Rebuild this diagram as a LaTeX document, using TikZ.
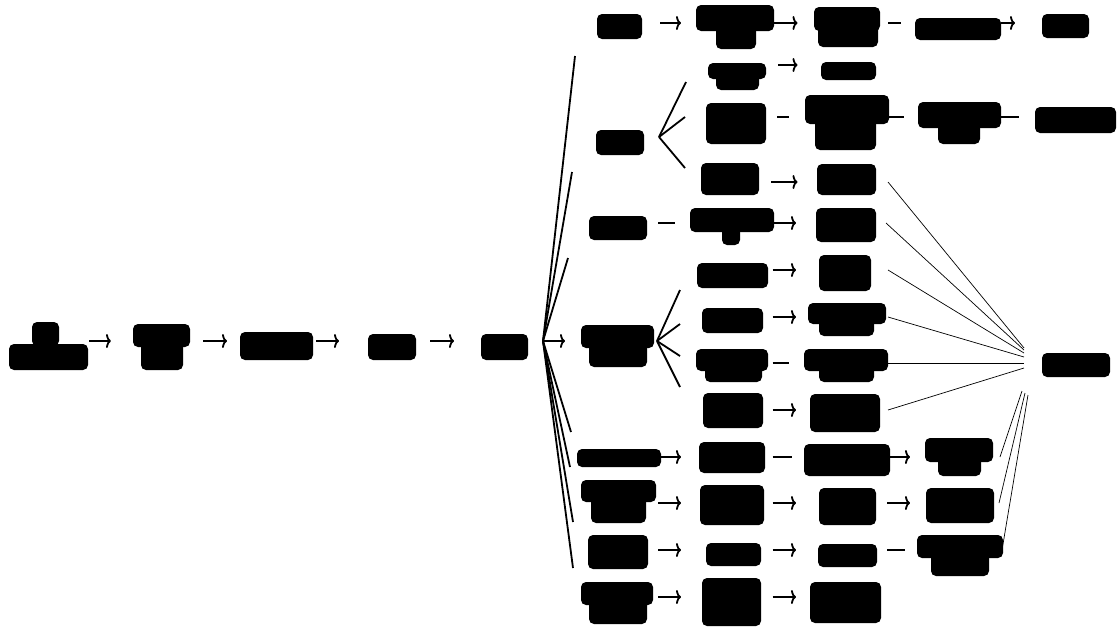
\documentclass[tikz,border=0pt]{standalone}
\usetikzlibrary{arrows.meta}
\tikzset{
  box/.style={rectangle, inner sep=0pt, outer sep=0pt, draw=none},
  blob/.style={fill=black, rounded corners=5pt},
  arr/.style={line width=1.8pt, -{To[length=5pt,width=14pt]}},
  cut/.style={line width=1.8pt},
  fan/.style={line width=1.8pt},
  thinl/.style={line width=0.7pt},
}
\newcommand\bx[5]{\pgfmathsetmacro\bxw{#3-#2}\pgfmathsetmacro\bxc{(#2+#3)/2}%
  \node[box, minimum width=\bxw pt, minimum height=#5 pt] (#1) at (\bxc,#4) {};}
\newcommand\blb[4]{\fill[blob] (#1,#2) rectangle (#3,#4);}
% second line of a two-line label: overlaps the first so they merge
\newcommand\blc[4]{\fill[blob] (#1,#2-8) rectangle (#3,#4);}
\begin{document}
\begin{tikzpicture}[x=1pt,y=-1pt]
\useasboundingbox (0,0) rectangle (1119,630);
% ---------- nodes (layout boxes) ----------
\bx{root}{8}{89}{341}{20}
\bx{A}{111}{203}{341}{20}
\bx{B}{227}{316}{341}{20}
\bx{C}{339}{430}{341}{20}
\bx{D}{454}{543}{341}{20}
\bx{c1}{575}{660}{23}{66}
\bx{nb}{681}{774}{23}{20}
\bx{nc}{797.5}{888}{23}{20}
\bx{nd}{901}{1001}{23}{20}
\bx{ne}{1015}{1095}{23}{20}
\bx{c2}{572}{659}{137}{70}
\bx{ca}{686}{778}{65}{34}
\bx{cap}{797.5}{880}{65}{20}
\bx{cb}{685}{777}{117}{20}
\bx{cbp}{789}{886}{117}{20}
\bx{cbpp}{904}{1001}{117}{20}
\bx{cbppp}{1019}{1117}{117}{20}
\bx{cc}{685}{771}{182}{28}
\bx{ccp}{797.5}{888}{182}{20}
\bx{c3}{568}{658}{223}{70}
\bx{da}{675}{774}{223}{20}
\bx{db}{796}{886}{223}{20}
\bx{c4}{565}{657}{341}{20}
\bx{ea}{680}{772.5}{270}{40}
\bx{eb}{796}{888}{270}{20}
\bx{ec}{680}{772.5}{317}{14}
\bx{ed}{796}{888}{317}{20}
\bx{ee}{680}{772.5}{363}{14}
\bx{ef}{789}{888}{363}{20}
\bx{eg}{680}{772.5}{410}{46}
\bx{eh}{796}{888}{410}{20}
\bx{S}{1024}{1112}{365}{20}
\bx{c5}{571}{661}{457}{50}
\bx{fa}{681}{772.5}{457}{20}
\bx{fb}{792}{887}{457}{20}
\bx{fc}{910}{1000}{457}{20}
\bx{c6}{570}{658}{503}{72}
\bx{ga}{681}{772.5}{503}{20}
\bx{gb}{796}{887}{503}{20}
\bx{gc}{910}{999}{503}{20}
\bx{c7}{573}{658}{550}{56}
\bx{ha}{681}{772.5}{550}{20}
\bx{hb}{796}{887}{550}{20}
\bx{hc}{905}{1002}{550}{20}
\bx{c8}{573}{658}{597}{58}
\bx{ia}{681}{772.5}{597}{20}
\bx{ib}{796}{885}{597}{20}
% ---------- redacted labels ----------
\blb{32}{322}{59}{346}\blb{9}{344}{88}{370}
\blb{133}{324}{190}{347}\blc{141}{347}{183}{370}
\blb{240}{332}{313}{360}
\blb{368}{334}{416}{360}
\blb{481}{334}{528}{360}
\blb{597}{14}{642}{39}
\blb{696}{5}{774}{31}\blc{716}{31}{756}{49}
\blb{814}{7}{880}{31}\blc{818}{31}{878}{47}
\blb{915}{18}{1001}{40}
\blb{1042}{14}{1089}{38}
\blb{596}{130}{644}{155}
\blb{708}{63}{766}{79}\blc{716}{79}{759}{90}
\blb{821}{62}{876}{80}
\blb{706}{103}{766}{144}
\blb{805}{95}{889}{124}\blc{815}{124}{876}{150}
\blb{918}{102}{1001}{128}\blc{938}{128}{980}{144}
\blb{1035}{107}{1116}{133}
\blb{701}{163}{759}{195}
\blb{817}{164}{876}{195}
\blb{589}{216}{647}{240}
\blb{690}{208}{774}{232}\blc{722}{232}{740}{245}
\blb{816}{208}{876}{242}
\blb{581}{325}{654}{348}\blc{589}{348}{647}{367}
\blb{697}{263}{768}{288}
\blb{819}{255}{871}{291}
\blb{702}{308}{763}{333}
\blb{808}{303}{886}{324}\blc{819}{324}{874}{336}
\blb{696}{349}{768}{371}\blc{705}{371}{762}{382}
\blb{804}{349}{888}{371}\blc{819}{371}{874}{382}
\blb{703}{393}{763}{428}
\blb{810}{394}{880}{432}
\blb{1042}{353}{1110}{377}
\blb{577}{449}{661}{467}
\blb{699}{442}{765}{473}
\blb{804}{444}{890}{476}
\blb{925}{438}{993}{462}\blc{938}{462}{981}{476}
\blb{581}{480}{656}{502}\blc{591}{502}{646}{523}
\blb{700}{485}{764}{525}
\blb{819}{488}{876}{525}
\blb{926}{488}{994}{523}
\blb{588}{535}{648}{569}
\blb{706}{543}{761}{566}
\blb{818}{544}{877}{567}
\blb{917}{535}{1003}{558}\blc{931}{558}{989}{576}
\blb{581}{582}{653}{605}\blc{589}{605}{647}{624}
\blb{702}{578}{761}{626}
\blb{810}{582}{881}{623}
% ---------- connectors ----------
\draw[arr] (root) -- (A);
\draw[arr] (A) -- (B);
\draw[arr] (B) -- (C);
\draw[arr] (C) -- (D);
\draw[arr] (D) -- (c4);
\draw[fan] (D.east) -- (c1.south west);
\draw[fan] (D.east) -- (c2.south west);
\draw[fan] (D.east) -- (c3.south west);
\draw[fan] (D.east) -- (c5.north west);
\draw[fan] (D.east) -- (c6.north west);
\draw[fan] (D.east) -- (c7.north west);
\draw[fan] (D.east) -- (c8.north west);
\draw[arr] (c1) -- (nb);
\draw[arr] (nb) -- (nc);
\draw[cut] (nc) -- (nd);
\draw[arr] (nd) -- (ne);
\draw[fan] (c2.east) -- (ca.south west);
\draw[fan] (c2.east) -- (cb.west);
\draw[fan] (c2.east) -- (cc.north west);
\draw[arr] (ca) -- (cap);
\draw[cut] (cb) -- (cbp);
\draw[cut] (cbp) -- (cbpp);
\draw[cut] (cbpp) -- (cbppp);
\draw[arr] (cc) -- (ccp);
\draw[cut] (c3) -- (da);
\draw[arr] (da) -- (db);
\draw[fan] (c4.east) -- (ea.south west);
\draw[fan] (c4.east) -- (ec.south west);
\draw[fan] (c4.east) -- (ee.north west);
\draw[fan] (c4.east) -- (eg.north west);
\draw[arr] (ea) -- (eb);
\draw[arr] (ec) -- (ed);
\draw[cut] (ee) -- (ef);
\draw[arr] (eg) -- (eh);
\draw[arr] (c5) -- (fa);
\draw[cut] (fa) -- (fb);
\draw[arr] (fb) -- (fc);
\draw[arr] (c6) -- (ga);
\draw[arr] (ga) -- (gb);
\draw[arr] (gb) -- (gc);
\draw[arr] (c7) -- (ha);
\draw[arr] (ha) -- (hb);
\draw[cut] (hb) -- (hc);
\draw[arr] (c8) -- (ia);
\draw[arr] (ia) -- (ib);
\coordinate (s1) at (1024,348);
\coordinate (s2) at (1024,350);
\coordinate (s3) at (1024,353);
\coordinate (s4) at (1024,357);
\coordinate (s5) at (1024,363);
\coordinate (s6) at (1024,368);
\coordinate (s7) at (1022,391);
\coordinate (s8) at (1025,393);
\coordinate (s9) at (1028,395);
\draw[thinl] (ccp.east) -- (s1);
\draw[thinl] (db.east) -- (s2);
\draw[thinl] (eb.east) -- (s3);
\draw[thinl] (ed.east) -- (s4);
\draw[thinl] (ef.east) -- (s5);
\draw[thinl] (eh.east) -- (s6);
\draw[thinl] (fc.east) -- (s7);
\draw[thinl] (gc.east) -- (s8);
\draw[thinl] (hc.east) -- (s9);
\end{tikzpicture}
\end{document}
